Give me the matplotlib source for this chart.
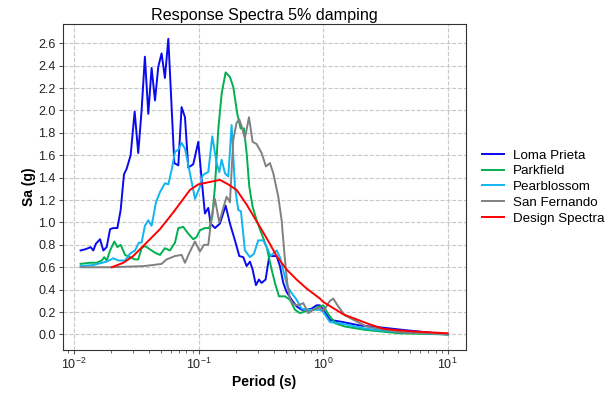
import matplotlib
matplotlib.use('Agg')
import matplotlib.pyplot as plt
import numpy as np

plt.rcParams['font.family'] = ['Liberation Sans', 'DejaVu Sans']

# Loma Prieta
loma_T = [0.0113, 0.0123, 0.0130, 0.0136, 0.0143, 0.0150, 0.0162, 0.0172, 0.0183, 0.0195,
          0.0207, 0.0223, 0.0237, 0.0252, 0.0265, 0.0285, 0.0307, 0.0328, 0.0349, 0.0371,
          0.0395, 0.0420, 0.0447, 0.0475, 0.0505, 0.0537, 0.0572, 0.0639, 0.0688, 0.0731,
          0.0778, 0.0827, 0.0907, 0.0995, 0.106, 0.1125, 0.1197, 0.125, 0.1354, 0.1485,
          0.165, 0.1786, 0.196, 0.2123, 0.2286, 0.2432, 0.2585, 0.2716, 0.2888, 0.3053,
          0.3207, 0.3453, 0.3695, 0.393, 0.4232, 0.4502, 0.4786, 0.5091, 0.5583, 0.6124,
          0.6718, 0.7369, 0.8083, 0.8865, 0.9426, 1.0025, 1.134, 1.45, 1.974, 3.04, 4.40, 10.0]
loma_sa = [0.75, 0.76, 0.77, 0.78, 0.75, 0.81, 0.85, 0.75, 0.78, 0.94,
           0.95, 0.95, 1.11, 1.43, 1.48, 1.60, 1.99, 1.62, 2.00, 2.48,
           1.97, 2.38, 2.09, 2.39, 2.51, 2.29, 2.64, 1.53, 1.51, 2.03,
           1.94, 1.49, 1.52, 1.72, 1.38, 1.08, 1.13, 0.99, 0.95, 0.99,
           1.15, 0.99, 0.84, 0.70, 0.69, 0.61, 0.65, 0.58, 0.44, 0.49,
           0.46, 0.49, 0.70, 0.70, 0.70, 0.61, 0.46, 0.38, 0.31, 0.25,
           0.22, 0.22, 0.23, 0.26, 0.26, 0.22, 0.13, 0.11, 0.08, 0.06, 0.04, 0.0]

# Parkfield
park_T = [0.0113, 0.0134, 0.0152, 0.0167, 0.0175, 0.0183, 0.0195, 0.0211, 0.0223, 0.0237,
          0.0257, 0.0281, 0.0309, 0.0328, 0.0349, 0.0371, 0.0395, 0.0447, 0.049, 0.0537,
          0.0589, 0.0647, 0.0688, 0.0754, 0.0827, 0.0907, 0.0965, 0.1026, 0.1125, 0.1219,
          0.1289, 0.1354, 0.144, 0.1532, 0.1649, 0.1786, 0.19, 0.2046, 0.2176, 0.2314,
          0.2432, 0.2554, 0.2716, 0.2924, 0.3207, 0.3518, 0.3858, 0.4103, 0.4419, 0.4936,
          0.5413, 0.5939, 0.6514, 0.7369, 0.8336, 0.8865, 1.0025, 1.10, 1.25, 1.5, 2.2, 4.1, 10.0]
park_sa = [0.63, 0.64, 0.64, 0.66, 0.69, 0.66, 0.75, 0.83, 0.78, 0.80,
           0.71, 0.69, 0.67, 0.67, 0.77, 0.79, 0.77, 0.73, 0.71, 0.77,
           0.75, 0.82, 0.95, 0.96, 0.90, 0.85, 0.87, 0.93, 0.95, 0.95,
           1.05, 1.32, 1.83, 2.15, 2.34, 2.30, 2.21, 1.97, 1.84, 1.84,
           1.62, 1.32, 1.14, 1.02, 0.90, 0.78, 0.58, 0.46, 0.34, 0.34,
           0.31, 0.22, 0.19, 0.21, 0.22, 0.24, 0.26, 0.18, 0.10, 0.07, 0.04, 0.01, 0.0]

# Pearblossom
pear_T = [0.0113, 0.0143, 0.0183, 0.0207, 0.0227, 0.0257, 0.0281, 0.0309, 0.0332, 0.0349,
          0.0371, 0.0395, 0.042, 0.0455, 0.049, 0.0537, 0.0572, 0.0608, 0.0647, 0.0688,
          0.0731, 0.0778, 0.0853, 0.0936, 0.1026, 0.1078, 0.1147, 0.1197, 0.1289, 0.1396,
          0.1467, 0.1532, 0.1629, 0.1732, 0.1842, 0.1959, 0.2084, 0.2189, 0.2357, 0.2585,
          0.2784, 0.3015, 0.3307, 0.3561, 0.3787, 0.4232, 0.4502, 0.4846, 0.5153, 0.5583,
          0.6124, 0.6718, 0.7369, 0.8336, 0.9426, 1.0025, 1.134, 1.364, 2.233, 4.134, 10.0]
pear_sa = [0.61, 0.62, 0.65, 0.68, 0.66, 0.66, 0.72, 0.75, 0.82, 0.82,
           0.97, 1.02, 0.97, 1.18, 1.27, 1.35, 1.34, 1.47, 1.63, 1.65,
           1.71, 1.66, 1.44, 1.21, 1.32, 1.42, 1.44, 1.45, 1.77, 1.53,
           1.45, 1.56, 1.44, 1.41, 1.87, 1.32, 1.11, 1.10, 0.75, 0.69,
           0.72, 0.84, 0.84, 0.77, 0.70, 0.75, 0.69, 0.55, 0.43, 0.37,
           0.31, 0.23, 0.22, 0.22, 0.22, 0.20, 0.11, 0.10, 0.05, 0.02, 0.0]

# San Fernando
sanf_T = [0.0113, 0.0195, 0.036, 0.0433, 0.0505, 0.0554, 0.0647, 0.0731, 0.0778, 0.0853,
          0.0936, 0.1026, 0.1105, 0.1197, 0.1273, 0.1354, 0.1467, 0.158, 0.168, 0.1786,
          0.19, 0.2021, 0.2123, 0.2216, 0.2357, 0.2539, 0.2716, 0.2924, 0.3207, 0.3474,
          0.3741, 0.3979, 0.4365, 0.4642, 0.4936, 0.5153, 0.5413, 0.5758, 0.6316, 0.6928,
          0.7599, 0.8336, 0.9426, 1.0025, 1.034, 1.134, 1.206, 1.322, 1.496, 2.233, 4.134, 10.0]
sanf_sa = [0.60, 0.60, 0.61, 0.62, 0.63, 0.67, 0.70, 0.71, 0.64, 0.74,
           0.83, 0.74, 0.80, 0.80, 1.05, 1.21, 1.00, 1.13, 1.23, 1.18,
           1.74, 1.89, 1.92, 1.86, 1.75, 1.94, 1.72, 1.70, 1.62, 1.50,
           1.53, 1.44, 1.23, 1.02, 0.67, 0.46, 0.32, 0.27, 0.26, 0.28,
           0.19, 0.22, 0.24, 0.21, 0.23, 0.30, 0.32, 0.25, 0.17, 0.07, 0.02, 0.0]

# Design spectra
design_T = [0.0201, 0.0249, 0.0299, 0.0383, 0.049, 0.0627, 0.0754, 0.0853, 0.0995, 0.1485,
            0.1732, 0.2021, 0.2432, 0.2924, 0.3518, 0.4232, 0.5091, 0.6124, 0.7369, 0.9426,
            1.0025, 1.45, 2.233, 3.04, 4.68, 10.0]
design_sa = [0.60, 0.64, 0.70, 0.82, 0.94, 1.09, 1.21, 1.29, 1.34, 1.38,
             1.34, 1.29, 1.16, 1.01, 0.86, 0.70, 0.58, 0.49, 0.41, 0.32,
             0.29, 0.18, 0.10, 0.05, 0.03, 0.01]

fig = plt.figure(figsize=(6.14, 3.94), dpi=100)
ax = fig.add_axes([0.102, 0.112, 0.657, 0.827])

ax.plot(loma_T, loma_sa, color='#0a0aee', lw=1.4, label='Loma Prieta')
ax.plot(park_T, park_sa, color='#00b04f', lw=1.4, label='Parkfield')
ax.plot(pear_T, pear_sa, color='#10b4f0', lw=1.4, label='Pearblossom')
ax.plot(sanf_T, sanf_sa, color='#808080', lw=1.4, label='San Fernando')
ax.plot(design_T, design_sa, color='#ff0000', lw=1.4, label='Design Spectra')

ax.set_xscale('log')
ax.set_xlim(10 ** -2.091, 10 ** 1.147)
ax.set_ylim(-0.138, 2.772)
ax.set_yticks(np.arange(0, 2.61, 0.2))
ax.set_yticklabels(['%.1f' % v for v in np.arange(0, 2.61, 0.2)])
ax.grid(True, which='major', ls='--', color='#c8c8c8', lw=0.8)
ax.tick_params(which='both', labelsize=9, pad=2, colors='#555555', labelcolor='#222222')
ax.tick_params(which='major', length=3)
ax.tick_params(which='minor', length=2)
for s in ax.spines.values():
    s.set_color('#333333')

ax.set_title('Response Spectra 5% damping', fontsize=11.6, pad=3)
ax.set_xlabel('Period (s)', fontsize=10, fontweight='bold', labelpad=2)
ax.set_ylabel('Sa (g)', fontsize=10, fontweight='bold', labelpad=2)
ax.legend(loc='center left', bbox_to_anchor=(1.011, 0.5), frameon=False, fontsize=9.6,
          handlelength=1.6, handletextpad=0.7, labelspacing=0.26)

plt.savefig('out.png', dpi=100)
plt.close()
